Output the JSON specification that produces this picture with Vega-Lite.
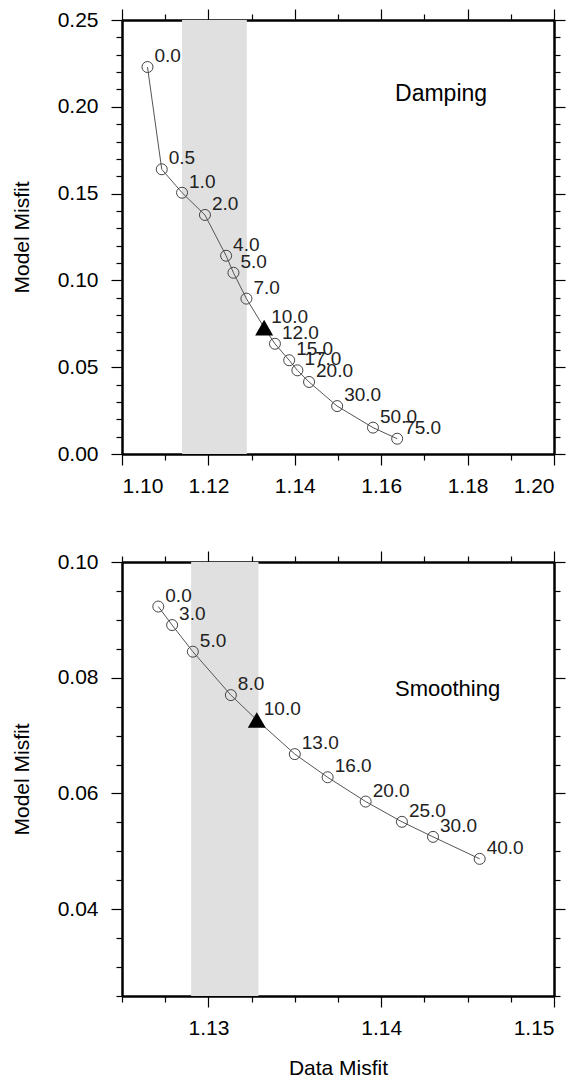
{
  "$schema": "https://vega.github.io/schema/vega-lite/v6.json",
  "padding": {"left": 11, "top": 8, "right": 5, "bottom": 5},
  "background": "white",
  "config": {
    "view": {"stroke": null},
    "font": "Liberation Sans",
    "axis": {
      "grid": false,
      "domainColor": "black",
      "domainWidth": 2.5,
      "tickColor": "black",
      "tickWidth": 1.2,
      "labelFont": "Liberation Sans",
      "labelFontSize": 21,
      "labelColor": "black",
      "titleFont": "Liberation Sans",
      "titleFontSize": 21,
      "titleFontWeight": "normal",
      "titleColor": "black",
      "labelPadding": 8
    },
    "text": {"font": "Liberation Sans"}
  },
  "spacing": 108,
  "bounds": "flush",
  "datasets": {
    "damp": [
      {"p": 0.0, "lab": "0.0", "x": 1.1059, "y": 0.2229, "kind": "circle"},
      {"p": 0.5, "lab": "0.5", "x": 1.1092, "y": 0.1640, "kind": "circle"},
      {"p": 1.0, "lab": "1.0", "x": 1.1139, "y": 0.1505, "kind": "circle"},
      {"p": 2.0, "lab": "2.0", "x": 1.1192, "y": 0.1377, "kind": "circle"},
      {"p": 4.0, "lab": "4.0", "x": 1.1241, "y": 0.1142, "kind": "circle"},
      {"p": 5.0, "lab": "5.0", "x": 1.1258, "y": 0.1044, "kind": "circle"},
      {"p": 7.0, "lab": "7.0", "x": 1.1288, "y": 0.0895, "kind": "circle"},
      {"p": 10.0, "lab": "10.0", "x": 1.1329, "y": 0.0728, "kind": "triangle"},
      {"p": 12.0, "lab": "12.0", "x": 1.1354, "y": 0.0635, "kind": "circle"},
      {"p": 15.0, "lab": "15.0", "x": 1.1387, "y": 0.0540, "kind": "circle"},
      {"p": 17.0, "lab": "17.0", "x": 1.1406, "y": 0.0482, "kind": "circle"},
      {"p": 20.0, "lab": "20.0", "x": 1.1433, "y": 0.0415, "kind": "circle"},
      {"p": 30.0, "lab": "30.0", "x": 1.1498, "y": 0.0276, "kind": "circle"},
      {"p": 50.0, "lab": "50.0", "x": 1.1581, "y": 0.0152, "kind": "circle"},
      {"p": 75.0, "lab": "75.0", "x": 1.1637, "y": 0.0088, "kind": "circle"}
    ],
    "smooth": [
      {"p": 0.0, "lab": "0.0", "x": 1.1271, "y": 0.0923, "kind": "circle"},
      {"p": 3.0, "lab": "3.0", "x": 1.1279, "y": 0.0891, "kind": "circle"},
      {"p": 5.0, "lab": "5.0", "x": 1.1291, "y": 0.0845, "kind": "circle"},
      {"p": 8.0, "lab": "8.0", "x": 1.1313, "y": 0.0770, "kind": "circle"},
      {"p": 10.0, "lab": "10.0", "x": 1.1328, "y": 0.0727, "kind": "triangle"},
      {"p": 13.0, "lab": "13.0", "x": 1.1350, "y": 0.0668, "kind": "circle"},
      {"p": 16.0, "lab": "16.0", "x": 1.1369, "y": 0.0628, "kind": "circle"},
      {"p": 20.0, "lab": "20.0", "x": 1.1391, "y": 0.0586, "kind": "circle"},
      {"p": 25.0, "lab": "25.0", "x": 1.1412, "y": 0.0551, "kind": "circle"},
      {"p": 30.0, "lab": "30.0", "x": 1.1430, "y": 0.0525, "kind": "circle"},
      {"p": 40.0, "lab": "40.0", "x": 1.1457, "y": 0.0487, "kind": "circle"}
    ],
    "dampBand": [{"x1": 1.1139, "x2": 1.1289}],
    "smoothBand": [{"x1": 1.1290, "x2": 1.1329}],
    "dampNote": [{"x": 1.1632, "y": 0.2033, "t": "Damping"}],
    "smoothNote": [{"x": 1.1408, "y": 0.0768, "t": "Smoothing"}]
  },
  "vconcat": [
    {
      "width": 432,
      "height": 434,
      "resolve": {"axis": {"x": "independent", "y": "independent"}},
      "layer": [
        {
          "data": {"name": "dampBand"},
          "mark": {"type": "rect", "color": "#e0e0e0"},
          "encoding": {
            "x": {"field": "x1", "type": "quantitative",
              "scale": {"domain": [1.10, 1.20], "nice": false, "zero": false},
              "axis": {"orient": "bottom", "title": null, "format": ".2f",
                "values": [1.10, 1.11, 1.12, 1.13, 1.14, 1.15, 1.16, 1.17, 1.18, 1.19, 1.20],
                "labelExpr": "round(datum.value*100) % 2 === 0 ? datum.label : ''",
                "tickSize": {"condition": {"test": "round(datum.value*100) % 2 === 0", "value": 11}, "value": 6},
                "labelPadding": 10}},
            "x2": {"field": "x2"}
          }
        },
        {
          "data": {"name": "damp"},
          "mark": {"type": "line", "color": "#555555", "strokeWidth": 1},
          "encoding": {
            "x": {"field": "x", "type": "quantitative",
              "scale": {"domain": [1.10, 1.20], "nice": false, "zero": false},
              "axis": {"orient": "top", "title": null, "labels": false,
                "values": [1.10, 1.11, 1.12, 1.13, 1.14, 1.15, 1.16, 1.17, 1.18, 1.19, 1.20],
                "tickSize": {"condition": {"test": "round(datum.value*100) % 2 === 0", "value": 11}, "value": 6}}},
            "y": {"field": "y", "type": "quantitative",
              "scale": {"domain": [0, 0.25], "nice": false, "zero": false},
              "axis": {"orient": "left", "title": "Model Misfit", "format": ".2f", "titlePadding": 25,
                "values": [0, 0.01, 0.02, 0.03, 0.04, 0.05, 0.06, 0.07, 0.08, 0.09, 0.10, 0.11, 0.12, 0.13, 0.14, 0.15, 0.16, 0.17, 0.18, 0.19, 0.20, 0.21, 0.22, 0.23, 0.24, 0.25],
                "labelExpr": "round(datum.value*100) % 5 === 0 ? datum.label : ''",
                "tickSize": {"condition": {"test": "round(datum.value*100) % 5 === 0", "value": 11}, "value": 6},
                "labelPadding": 13}},
            "order": {"field": "p", "type": "quantitative"}
          }
        },
        {
          "data": {"name": "damp"},
          "transform": [{"filter": "datum.kind === 'circle'"}],
          "mark": {"type": "point", "shape": "circle", "filled": false, "stroke": "#444444", "strokeWidth": 1, "size": 121, "opacity": 1},
          "encoding": {
            "x": {"field": "x", "type": "quantitative", "axis": null},
            "y": {"field": "y", "type": "quantitative",
              "axis": {"orient": "right", "title": null, "labels": false,
                "values": [0, 0.01, 0.02, 0.03, 0.04, 0.05, 0.06, 0.07, 0.08, 0.09, 0.10, 0.11, 0.12, 0.13, 0.14, 0.15, 0.16, 0.17, 0.18, 0.19, 0.20, 0.21, 0.22, 0.23, 0.24, 0.25],
                "tickSize": {"condition": {"test": "round(datum.value*100) % 5 === 0", "value": 11}, "value": 6}}}
          }
        },
        {
          "data": {"name": "damp"},
          "transform": [{"filter": "datum.kind === 'triangle'"}],
          "mark": {"type": "point", "shape": "triangle-up", "filled": true, "color": "black", "size": 324, "opacity": 1},
          "encoding": {
            "x": {"field": "x", "type": "quantitative", "axis": null},
            "y": {"field": "y", "type": "quantitative", "axis": null}
          }
        },
        {
          "data": {"name": "damp"},
          "mark": {"type": "text", "align": "left", "baseline": "alphabetic", "dx": 7, "dy": -5, "fontSize": 19, "color": "#222222"},
          "encoding": {
            "x": {"field": "x", "type": "quantitative", "axis": null},
            "y": {"field": "y", "type": "quantitative", "axis": null},
            "text": {"field": "lab"}
          }
        },
        {
          "data": {"name": "dampNote"},
          "mark": {"type": "text", "align": "left", "baseline": "alphabetic", "fontSize": 23, "color": "black"},
          "encoding": {
            "x": {"field": "x", "type": "quantitative", "axis": null},
            "y": {"field": "y", "type": "quantitative", "axis": null},
            "text": {"field": "t"}
          }
        }
      ]
    },
    {
      "width": 432,
      "height": 434,
      "resolve": {"axis": {"x": "independent", "y": "independent"}},
      "layer": [
        {
          "data": {"name": "smoothBand"},
          "mark": {"type": "rect", "color": "#e0e0e0"},
          "encoding": {
            "x": {"field": "x1", "type": "quantitative",
              "scale": {"domain": [1.125, 1.15], "nice": false, "zero": false},
              "axis": {"orient": "bottom", "title": "Data Misfit", "format": ".2f", "titlePadding": 19,
                "values": [1.125, 1.1275, 1.13, 1.1325, 1.135, 1.1375, 1.14, 1.1425, 1.145, 1.1475, 1.15],
                "labelExpr": "round(datum.value*10000) % 100 === 0 ? datum.label : ''",
                "tickSize": {"condition": {"test": "round(datum.value*10000) % 100 === 0", "value": 11}, "value": 6},
                "labelPadding": 10}},
            "x2": {"field": "x2"}
          }
        },
        {
          "data": {"name": "smooth"},
          "mark": {"type": "line", "color": "#555555", "strokeWidth": 1},
          "encoding": {
            "x": {"field": "x", "type": "quantitative",
              "scale": {"domain": [1.125, 1.15], "nice": false, "zero": false},
              "axis": {"orient": "top", "title": null, "labels": false,
                "values": [1.125, 1.1275, 1.13, 1.1325, 1.135, 1.1375, 1.14, 1.1425, 1.145, 1.1475, 1.15],
                "tickSize": {"condition": {"test": "round(datum.value*10000) % 100 === 0", "value": 11}, "value": 6}}},
            "y": {"field": "y", "type": "quantitative",
              "scale": {"domain": [0.025, 0.10], "nice": false, "zero": false},
              "axis": {"orient": "left", "title": "Model Misfit", "format": ".2f", "titlePadding": 25,
                "values": [0.025, 0.03, 0.035, 0.04, 0.045, 0.05, 0.055, 0.06, 0.065, 0.07, 0.075, 0.08, 0.085, 0.09, 0.095, 0.10],
                "labelExpr": "round(datum.value*1000) % 20 === 0 ? datum.label : ''",
                "tickSize": {"condition": {"test": "round(datum.value*1000) % 20 === 0", "value": 11}, "value": 6},
                "labelPadding": 13}},
            "order": {"field": "p", "type": "quantitative"}
          }
        },
        {
          "data": {"name": "smooth"},
          "transform": [{"filter": "datum.kind === 'circle'"}],
          "mark": {"type": "point", "shape": "circle", "filled": false, "stroke": "#444444", "strokeWidth": 1, "size": 121, "opacity": 1},
          "encoding": {
            "x": {"field": "x", "type": "quantitative", "axis": null},
            "y": {"field": "y", "type": "quantitative",
              "axis": {"orient": "right", "title": null, "labels": false,
                "values": [0.025, 0.03, 0.035, 0.04, 0.045, 0.05, 0.055, 0.06, 0.065, 0.07, 0.075, 0.08, 0.085, 0.09, 0.095, 0.10],
                "tickSize": {"condition": {"test": "round(datum.value*1000) % 20 === 0", "value": 11}, "value": 6}}}
          }
        },
        {
          "data": {"name": "smooth"},
          "transform": [{"filter": "datum.kind === 'triangle'"}],
          "mark": {"type": "point", "shape": "triangle-up", "filled": true, "color": "black", "size": 324, "opacity": 1},
          "encoding": {
            "x": {"field": "x", "type": "quantitative", "axis": null},
            "y": {"field": "y", "type": "quantitative", "axis": null}
          }
        },
        {
          "data": {"name": "smooth"},
          "mark": {"type": "text", "align": "left", "baseline": "alphabetic", "dx": 7, "dy": -5, "fontSize": 19, "color": "#222222"},
          "encoding": {
            "x": {"field": "x", "type": "quantitative", "axis": null},
            "y": {"field": "y", "type": "quantitative", "axis": null},
            "text": {"field": "lab"}
          }
        },
        {
          "data": {"name": "smoothNote"},
          "mark": {"type": "text", "align": "left", "baseline": "alphabetic", "fontSize": 22, "color": "black"},
          "encoding": {
            "x": {"field": "x", "type": "quantitative", "axis": null},
            "y": {"field": "y", "type": "quantitative", "axis": null},
            "text": {"field": "t"}
          }
        }
      ]
    }
  ]
}
